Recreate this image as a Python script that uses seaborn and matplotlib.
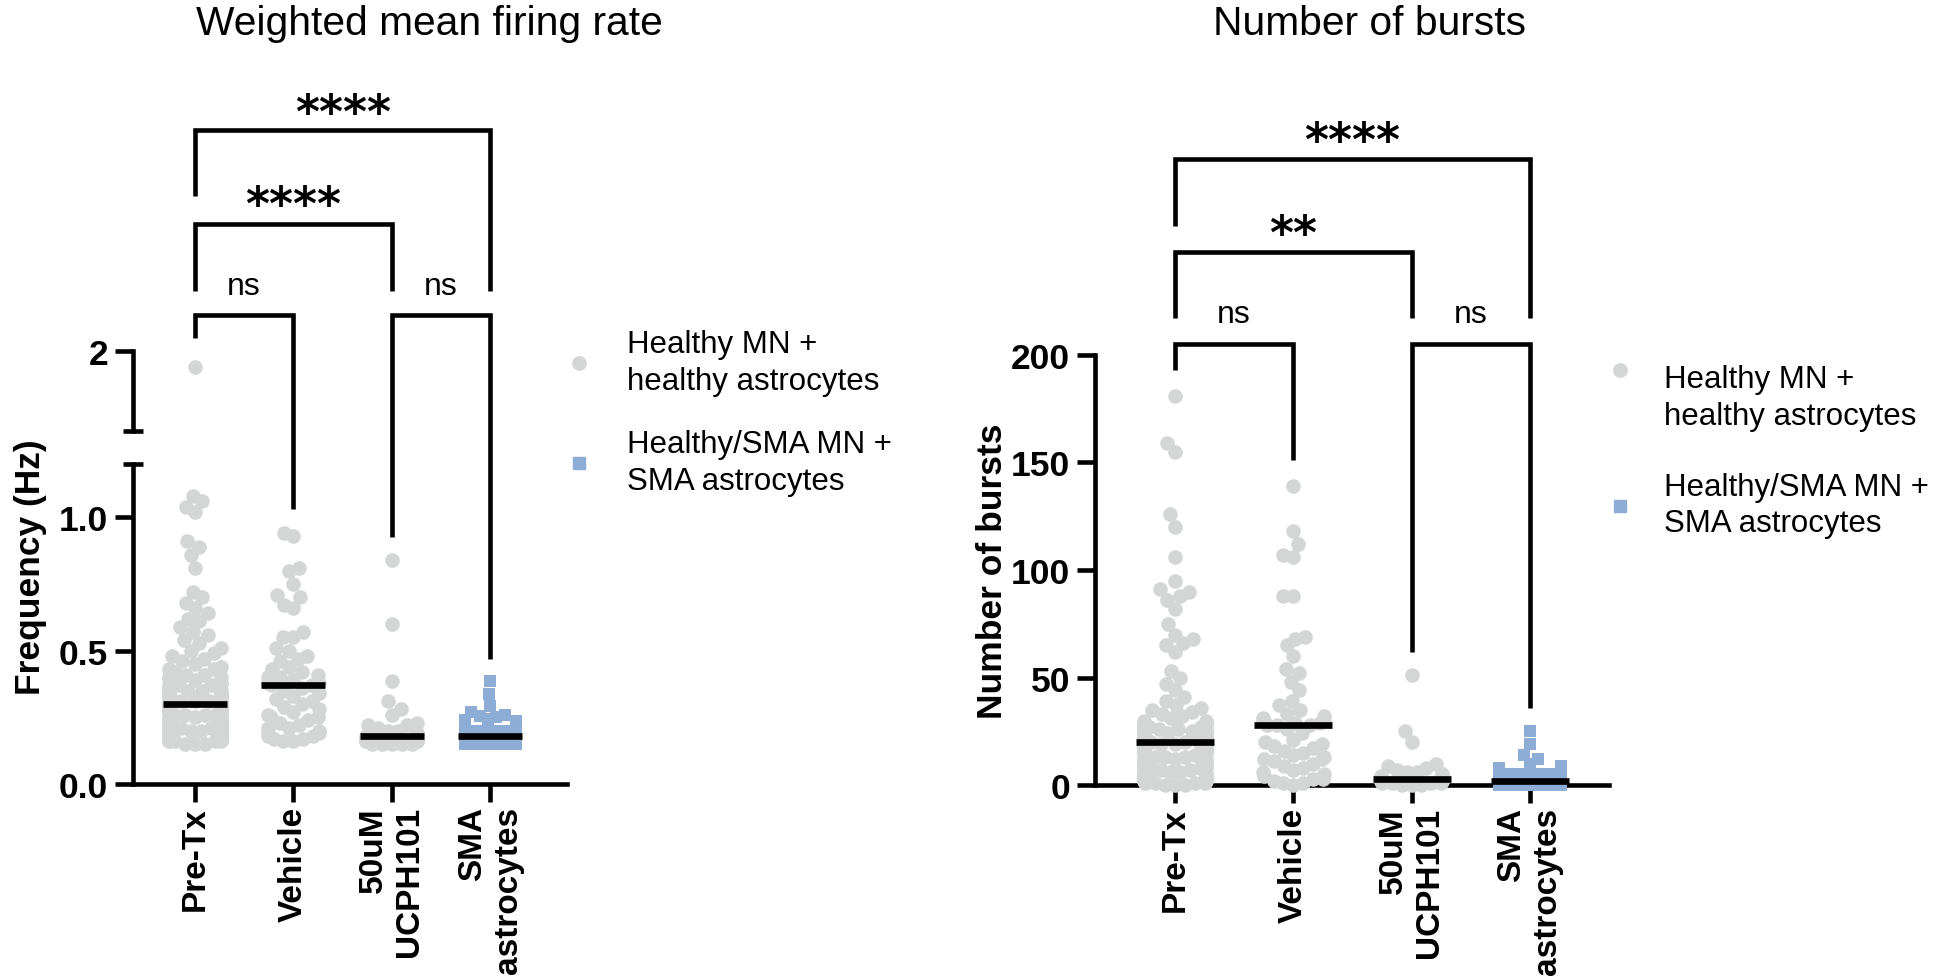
import warnings
warnings.filterwarnings("ignore")
import numpy as np
import pandas as pd
import matplotlib
matplotlib.use("Agg")
import matplotlib.pyplot as plt
from matplotlib.lines import Line2D
from matplotlib.markers import MarkerStyle
from matplotlib.transforms import Affine2D
import seaborn as sns

# ---------------- data ----------------
categories = ["Pre-Tx", "Vehicle", "50uM UCPH101", "SMA astrocytes"]
category_labels = ["Pre-Tx", "Vehicle", "50uM\nUCPH101", "SMA\nastrocytes"]
series_labels = ["Healthy MN +\nhealthy astrocytes", "Healthy/SMA MN +\nSMA astrocytes"]

freq_pretx = [
    1.94, 1.08, 1.06, 1.04, 1.02, 0.91, 0.89, 0.86, 0.81, 0.72,
    0.70, 0.68, 0.66, 0.64, 0.62, 0.61, 0.59, 0.57, 0.56, 0.54,
    0.53, 0.51, 0.50, 0.49, 0.48, 0.47, 0.46, 0.45, 0.44, 0.43,
    0.43, 0.42, 0.41, 0.41, 0.40, 0.40, 0.39, 0.39, 0.38, 0.38,
    0.37, 0.37, 0.37, 0.36, 0.36, 0.35, 0.35, 0.35, 0.34, 0.34,
    0.34, 0.33, 0.33, 0.33, 0.32, 0.32, 0.32, 0.32, 0.31, 0.31,
    0.31, 0.31, 0.30, 0.30, 0.30, 0.30,
    0.29, 0.29, 0.29, 0.29, 0.28, 0.28, 0.28, 0.28, 0.27, 0.27, 0.27, 0.27,
    0.26, 0.26, 0.26, 0.26, 0.25, 0.25, 0.25, 0.25, 0.24, 0.24, 0.24, 0.24,
    0.23, 0.23, 0.23, 0.23, 0.22, 0.22, 0.22, 0.22,
    0.21, 0.21, 0.21, 0.21, 0.21, 0.20, 0.20, 0.20, 0.20, 0.20,
    0.19, 0.19, 0.19, 0.19, 0.19, 0.18, 0.18, 0.18, 0.18, 0.18,
    0.17, 0.17, 0.17, 0.17, 0.17, 0.16, 0.16, 0.16, 0.16, 0.16,
    0.15, 0.15, 0.15]
freq_vehicle = [
    0.94, 0.93, 0.81, 0.80, 0.75, 0.71, 0.70, 0.67, 0.66, 0.57,
    0.55, 0.55, 0.51, 0.50, 0.48, 0.47, 0.46, 0.44, 0.43, 0.42,
    0.41, 0.40, 0.40, 0.39, 0.38, 0.38, 0.37, 0.37,
    0.36, 0.35, 0.34, 0.33, 0.32, 0.31, 0.30, 0.29, 0.28, 0.27,
    0.26, 0.25, 0.25, 0.24, 0.23, 0.22, 0.21, 0.21, 0.20, 0.19,
    0.19, 0.18, 0.18, 0.17, 0.17, 0.16, 0.16]
freq_ucph = [
    0.84, 0.60, 0.385, 0.31, 0.28, 0.26, 0.23, 0.22, 0.22, 0.21,
    0.20, 0.20, 0.19, 0.18, 0.18, 0.17, 0.17, 0.17, 0.16, 0.16,
    0.16, 0.16, 0.15, 0.15, 0.15, 0.15, 0.15]
freq_sma = [
    0.385, 0.338, 0.292,
    0.27, 0.26, 0.255, 0.25, 0.245, 0.24,
    0.235, 0.23, 0.23, 0.225, 0.22, 0.22,
    0.21, 0.21, 0.21, 0.21, 0.21, 0.21, 0.21, 0.21,
    0.20, 0.20, 0.20, 0.20, 0.20, 0.20, 0.20, 0.20, 0.20,
    0.19, 0.19, 0.19, 0.19, 0.19, 0.19, 0.19, 0.19, 0.19, 0.19,
    0.18, 0.18, 0.18, 0.18, 0.18, 0.18, 0.18, 0.18, 0.18, 0.18, 0.18, 0.18,
    0.17, 0.17, 0.17, 0.17, 0.17, 0.17, 0.17, 0.17, 0.17, 0.17, 0.17, 0.17,
    0.16, 0.16, 0.16, 0.16, 0.16, 0.16, 0.16, 0.16, 0.16, 0.16, 0.16, 0.16, 0.16, 0.16,
    0.15, 0.15, 0.15, 0.15, 0.15, 0.15, 0.15, 0.15, 0.15, 0.15, 0.15, 0.15]

bursts_pretx = [
    181, 159, 155, 126, 120, 106, 95, 91, 90, 88,
    86, 82, 75, 70, 68, 66, 65, 62, 53, 50,
    47, 44, 41, 39, 37, 36, 35, 34, 33, 32,
    31, 30, 30, 29, 29, 28, 28, 27, 27, 27,
    26, 26, 26, 25, 25, 25, 25, 24, 24, 24,
    24, 23, 23, 23, 23, 22, 22, 22, 22, 22,
    21, 21, 21, 21, 21, 20,
    20, 20, 19, 19, 19, 18, 18, 18, 17, 17, 17, 16, 16, 16,
    15, 15, 15, 14, 14, 14, 13, 13, 13, 12, 12, 12, 11, 11, 11,
    10, 10, 10, 9, 9, 9, 8, 8, 8, 7, 7, 7, 6, 6, 6,
    5, 5, 5, 4, 4, 4, 3, 3, 3, 3, 2, 2, 2, 2, 1, 1, 1, 1, 0, 0, 0]
bursts_vehicle = [
    139, 118, 112, 107, 106, 88, 88, 69, 68, 65,
    60, 54, 52, 48, 44, 39, 37, 35, 33, 32,
    31, 30, 30, 29, 29, 28, 28, 28,
    26, 24, 21, 20, 19, 18, 17, 16, 15, 14,
    13, 12, 12, 11, 10, 9, 8, 7, 6, 5,
    4, 3, 3, 2, 1, 1, 0]
bursts_ucph = [
    51, 25, 20, 10, 9, 8, 7, 6, 6, 5, 5, 4, 3, 3,
    3, 3, 2, 2, 2, 2, 1, 1, 1, 1, 0, 0, 0]
bursts_sma = [
    25, 19, 14, 12, 10, 9, 8, 8, 7, 7, 6, 6,
    5, 5, 5, 5, 5, 5, 5, 5, 5,
    4, 4, 4, 4, 4, 4, 4, 4, 4, 4, 4,
    3, 3, 3, 3, 3, 3, 3, 3, 3, 3, 3, 3,
    2, 2, 2, 2, 2, 2, 2, 2, 2, 2, 2, 2, 2, 2, 2, 2, 2,
    1, 1, 1, 1, 1, 1, 1, 1, 1, 1, 1, 1, 1, 1, 1, 1, 1,
    0, 0, 0, 0, 0, 0, 0, 0, 0, 0, 0, 0, 0, 0, 0, 0, 0]

freq_ticks = [0.0, 0.5, 1.0]
freq_tick_labels = ["0.0", "0.5", "1.0"]
freq_upper_ticks = [2.0]
freq_upper_tick_labels = ["2"]
burst_ticks = [0, 50, 100, 150, 200]
burst_tick_labels = ["0", "50", "100", "150", "200"]

sig_freq = ["ns", "ns", "****", "****"]
sig_bursts = ["ns", "ns", "**", "****"]

# ---------------- style ----------------
GREY = "#D4D5D5"
BLUE = "#8DACD6"
LW = 3.3

sns.set_style("ticks")
plt.rcParams["font.family"] = ["Liberation Sans", "DejaVu Sans"]
plt.rcParams["axes.linewidth"] = LW
for key in ["text.color", "axes.labelcolor", "xtick.color", "ytick.color", "axes.edgecolor"]:
    plt.rcParams[key] = "black"


def long_df(groups):
    rows = []
    for cat, vals in zip(categories, groups):
        for v in vals:
            rows.append((cat, v))
    return pd.DataFrame(rows, columns=["group", "value"])


df_freq = long_df([freq_pretx, freq_vehicle, freq_ucph, freq_sma])
df_bursts = long_df([bursts_pretx, bursts_vehicle, bursts_ucph, bursts_sma])

W, H = 1951, 978
fig = plt.figure(figsize=(W / 100, H / 100), dpi=100)


def px_axes(left, right, top, bottom):
    return fig.add_axes([left / W, 1 - bottom / H, (right - left) / W, (bottom - top) / H])


axL = px_axes(133, 567, 465, 785)   # lower segment 0 - 1.2
axU = px_axes(133, 567, 352, 432)   # upper segment 1.7 - 2.0
axR = px_axes(1095, 1609, 356, 786)

LOW_MAX, UP_MIN, UP_MAX = 1.2, 1.7, 2.0
DOT, SQ = 10.5, 9.0


def swarm(ax, df):
    grey = df[df.group != categories[3]]
    blue = df[df.group == categories[3]]
    if len(grey):
        sns.swarmplot(data=grey, x="group", y="value", order=categories, color=GREY,
                      size=DOT, linewidth=0, marker="o", ax=ax)
    if len(blue):
        sns.swarmplot(data=blue, x="group", y="value", order=categories, color=BLUE,
                      size=SQ, linewidth=0, marker="s", ax=ax)


def medians(ax, df, msize):
    n0 = len(ax.lines)
    sns.pointplot(data=df, x="group", y="value", order=categories, estimator="median",
                  errorbar=None, color="black", marker="_", linestyle="none", ax=ax)
    for ln in ax.lines[n0:]:
        ln.set_marker("_")
        ln.set_markersize(msize)
        ln.set_markeredgewidth(4.8)
        ln.set_linestyle("none")
        ln.set_color("black")
        ln.set_zorder(4)
        ln.set_clip_on(False)


swarm(axL, df_freq[df_freq.value <= LOW_MAX])
swarm(axU, df_freq[df_freq.value >= UP_MIN])
medians(axL, df_freq, 46)
swarm(axR, df_bursts)
medians(axR, df_bursts, 56)

for ax in (axL, axU, axR):
    for c in ax.collections:
        c.set_clip_on(False)
    ax.spines["top"].set_visible(False)
    ax.spines["right"].set_visible(False)
    for s in ax.spines.values():
        s.set_linewidth(LW)
        s.set_color("black")
        s.set_capstyle("projecting")
    ax.set_xlabel("")
    ax.set_ylabel("")

# limits
axL.set_xlim(-0.63, 3.78)
axU.set_xlim(-0.63, 3.78)
axR.set_xlim(-0.677, 3.67)
axL.set_ylim(0, LOW_MAX)
axU.set_ylim(UP_MIN, UP_MAX)
axR.set_ylim(0, 200)

TICK_FS = 25.5
for ax in (axL, axR):
    ax.set_xticks(range(len(categories)))
    ax.set_xticklabels(category_labels, rotation=90, fontsize=24, fontweight="bold",
                       ha="center", va="top", multialignment="right")
    ax.tick_params(axis="both", which="major", direction="out", length=13, width=LW,
                   pad=5, color="black", labelcolor="black")
    ax.tick_params(axis="x", which="major", pad=3)

axL.set_yticks(freq_ticks)
axL.set_yticklabels(freq_tick_labels, fontsize=TICK_FS, fontweight="bold")
axL.set_yticks([LOW_MAX], minor=True)
axL.tick_params(axis="y", which="minor", direction="inout", length=15, width=LW,
                color="black")

axU.spines["bottom"].set_visible(False)
axU.set_xticks([])
axU.set_yticks(freq_upper_ticks)
axU.set_yticklabels(freq_upper_tick_labels, fontsize=TICK_FS, fontweight="bold")
axU.tick_params(axis="y", which="major", direction="out", length=13, width=LW, pad=5,
                color="black", labelcolor="black")
axU.set_yticks([UP_MIN], minor=True)
axU.tick_params(axis="y", which="minor", direction="inout", length=15, width=LW,
                color="black")
axU.patch.set_visible(False)

axR.set_yticks(burst_ticks)
axR.set_yticklabels(burst_tick_labels, fontsize=TICK_FS, fontweight="bold")

axL.set_ylabel("Frequency (Hz)", fontsize=25.5, fontweight="bold", color="black")
axL.yaxis.set_label_coords(-0.198, 0.68)
axR.set_ylabel("Number of bursts", fontsize=25.5, fontweight="bold", color="black")
axR.yaxis.set_label_coords(-0.167, 0.5)

# significance brackets: (x1, x2, top, leg1 bottom, leg2 bottom, text y)
brackets_freq = [
    (0, 1, 1.757, 1.671, 1.03, 1.869),
    (2, 3, 1.757, 0.925, 0.47, 1.869),
    (0, 2, 2.101, 1.85, 1.85, 2.209),
    (0, 3, 2.452, 2.206, 1.85, 2.553),
]
brackets_bursts = [
    (0, 1, 205, 193, 151, 219),
    (2, 3, 205, 62, 36, 219),
    (0, 2, 248, 217, 217, 261),
    (0, 3, 291, 260, 217, 304),
]


def draw_brackets(ax, specs, labels):
    for (x1, x2, top, b1, b2, ty), lab in zip(specs, labels):
        ax.plot([x1, x1, x2, x2], [b1, top, top, b2], color="black", lw=LW,
                clip_on=False, solid_joinstyle="miter", solid_capstyle="butt", zorder=5)
        if "*" in lab:
            fs = 33
            ax.annotate(lab, xy=((x1 + x2) / 2, ty), xytext=(0, -0.52 * fs),
                        textcoords="offset points", ha="center", va="baseline",
                        fontsize=fs, fontweight="bold", family="DejaVu Sans",
                        color="black", annotation_clip=False)
        else:
            fs = 23
            ax.annotate(lab, xy=((x1 + x2) / 2, ty), xytext=(0, -0.26 * fs),
                        textcoords="offset points", ha="center", va="baseline",
                        fontsize=fs, color="black", annotation_clip=False)


draw_brackets(axL, brackets_freq, sig_freq)
draw_brackets(axR, brackets_bursts, sig_bursts)

# titles
fig.text(429 / W, 1 - 24 / H, "Weighted mean firing rate", ha="center", va="center",
         fontsize=29.3, color="black")
fig.text(1369 / W, 1 - 24 / H, "Number of bursts", ha="center", va="center",
         fontsize=29.3, color="black")

# legends
handlesL = [Line2D([], [], marker="o", color=GREY, linestyle="none", markersize=9.6),
            Line2D([], [], marker="s", color=BLUE, linestyle="none", markersize=9.0)]
raised_dot = MarkerStyle("o", transform=Affine2D().translate(0, 2.1))
handlesR = [Line2D([], [], marker=raised_dot, color=GREY, linestyle="none", markersize=9.6),
            Line2D([], [], marker="s", color=BLUE, linestyle="none", markersize=9.0)]
legL = fig.legend(handlesL, series_labels, loc="upper left",
                  bbox_to_anchor=(563 / W, 1 - 330 / H),
                  frameon=False, fontsize=22.5, handlelength=1.0, handletextpad=1.05,
                  labelspacing=1.05, borderpad=0, borderaxespad=0)
legR = fig.legend(handlesR, series_labels, loc="upper left",
                  bbox_to_anchor=(1604 / W, 1 - 365 / H),
                  frameon=False, fontsize=22.5, handlelength=1.0, handletextpad=0.93,
                  labelspacing=1.3, borderpad=0, borderaxespad=0)
for leg in (legL, legR):
    for t in leg.get_texts():
        t.set_linespacing(1.3)
        t.set_color("black")

# compute swarm layout, then narrow it to the Prism-like spread
fig.canvas.draw()
SPREAD = 0.65
for ax in (axL, axU, axR):
    for c in ax.collections:
        if "draw" in c.__dict__:
            del c.draw
            off = np.asarray(c.get_offsets()).copy()
            centre = np.round(off[:, 0])
            off[:, 0] = centre + (off[:, 0] - centre) * SPREAD
            c.set_offsets(off)

fig.savefig("out.png", dpi=100)
